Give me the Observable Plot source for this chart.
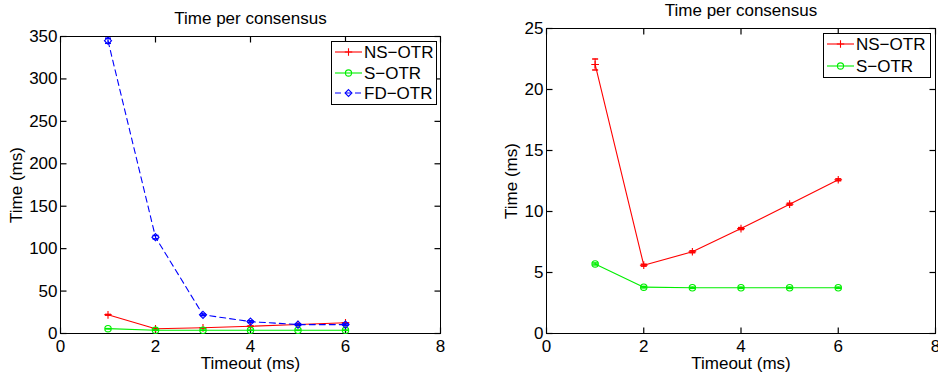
<!DOCTYPE html>
<html><head><meta charset="utf-8">
<script src="https://cdn.jsdelivr.net/npm/d3@7"></script>
<script src="https://cdn.jsdelivr.net/npm/@observablehq/plot@0.6"></script>
<style>
body{margin:0;background:#fff;}
#wrap{position:relative;width:938px;height:377px;overflow:hidden;font-family:"Liberation Sans",Arial,sans-serif;}
.panel{position:absolute;top:0;}
.legend{position:absolute;background:#fff;border:1.5px solid #000;box-sizing:border-box;}
</style></head>
<body><div id="wrap"></div>
<script>
const timeouts = [1, 2, 3, 4, 5, 6];
const nsOtr = [22.05, 5.6, 6.7, 8.6, 10.6, 12.6];
const nsErr = [0.45, 0.08, 0.08, 0.08, 0.08, 0.08];
const sOtr = [5.7, 3.8, 3.75, 3.75, 3.75, 3.75];
const sErr = [0.08, 0.06, 0.05, 0.05, 0.05, 0.05];
const fdOtr = [345, 113.5, 22, 14, 10.5, 10.5];
const fdErr = [3, 2, 1, 1, 0.8, 0.8];
const xTicks = [0, 2, 4, 6, 8];
const yTicksLeft = [0, 50, 100, 150, 200, 250, 300, 350];
const yTicksRight = [0, 5, 10, 15, 20, 25];
const titleText = "Time per consensus";
const xLabel = "Timeout (ms)";
const yLabel = "Time (ms)";

const series = [
  {name: "NS\u2212OTR", y: nsOtr, err: nsErr, color: "#ff0000", symbol: "plus", r: 2.6, dash: null},
  {name: "S\u2212OTR", y: sOtr, err: sErr, color: "#00ee00", symbol: "circle", r: 3.2, dash: null},
  {name: "FD\u2212OTR", y: fdOtr, err: fdErr, color: "#0000ff", symbol: "diamond2", r: 3.2, dash: "6,4"}
];
const capSymbol = {draw(ctx){ ctx.moveTo(-3, 0); ctx.lineTo(3, 0); }};
const W = 469, H = 377, TICK = 6;

function rows(s){ return timeouts.map((t,i)=>({x:t, y:s.y[i], lo:s.y[i]-s.err[i], hi:s.y[i]+s.err[i]})); }

function makePanel(list, yTicks, yMax, m, labelOffY){
  const xMin = xTicks[0], xMax = xTicks[xTicks.length-1];
  const fw = W - m.left - m.right, fh = H - m.top - m.bottom;
  const ty = TICK * yMax / fh, tx = TICK * (xMax - xMin) / fw;
  const marks = [Plot.frame({stroke:"#000", strokeWidth:1})];
  marks.push(Plot.axisX(xTicks, {anchor:"bottom", tickSize:0, tickPadding:6, fontSize:17, label:null}));
  marks.push(Plot.text([xLabel], {frameAnchor:"bottom", lineAnchor:"bottom", dy:35, fontSize:17}));
  marks.push(Plot.axisY(yTicks, {anchor:"left", tickSize:0, tickPadding:3, fontSize:17, label:yLabel, labelArrow:"none", labelAnchor:"center", labelOffset:labelOffY}));
  marks.push(Plot.link(xTicks, {x1:d=>d, x2:d=>d, y1:()=>0, y2:()=>ty, stroke:"#000", strokeWidth:1.2}));
  marks.push(Plot.link(xTicks, {x1:d=>d, x2:d=>d, y1:()=>yMax, y2:()=>yMax - ty, stroke:"#000", strokeWidth:1.2}));
  marks.push(Plot.link(yTicks, {y1:d=>d, y2:d=>d, x1:()=>xMin, x2:()=>xMin + tx, stroke:"#000", strokeWidth:1.2}));
  marks.push(Plot.link(yTicks, {y1:d=>d, y2:d=>d, x1:()=>xMax, x2:()=>xMax - tx, stroke:"#000", strokeWidth:1.2}));
  for (const s of list){
    const d = rows(s);
    marks.push(Plot.ruleX(d, {x:"x", y1:"lo", y2:"hi", stroke:s.color, strokeWidth:1}));
    marks.push(Plot.dot(d, {x:"x", y:"lo", symbol:capSymbol, stroke:s.color, r:3}));
    marks.push(Plot.dot(d, {x:"x", y:"hi", symbol:capSymbol, stroke:s.color, r:3}));
    marks.push(Plot.line(d, {x:"x", y:"y", stroke:s.color, strokeWidth:1.1, strokeDasharray:s.dash}));
    marks.push(Plot.dot(d, {x:"x", y:"y", symbol:s.symbol, stroke:s.color, fill:"none", r:s.r, strokeWidth:1.1}));
  }
  marks.push(Plot.text([titleText], {frameAnchor:"top", lineAnchor:"bottom", dy:-m.titleGap, fontSize:17}));
  return Plot.plot({
    width: W, height: H,
    marginLeft: m.left, marginRight: m.right, marginTop: m.top, marginBottom: m.bottom,
    style: {fontFamily:"Liberation Sans, Arial, sans-serif", fontSize:"17px", color:"#000", background:"transparent", overflow:"visible"},
    x: {domain:[xMin, xMax]},
    y: {domain:[0, yMax]},
    marks
  });
}

const wrap = document.getElementById("wrap");
const left = makePanel(series, yTicksLeft, 350, {left:60, right:29, top:36, bottom:44, titleGap:13}, 51);
left.classList.add("panel"); left.style.left = "0px";
wrap.appendChild(left);
const right = makePanel(series.slice(0,2), yTicksRight, 25, {left:77, right:3, top:28, bottom:44, titleGap:13}, 42);
right.classList.add("panel"); right.style.left = "469px";
wrap.appendChild(right);

function legend(list, x, y, w, h, rowYs){
  const svg = d3.create("svg").attr("width", w).attr("height", h);
  list.forEach((s, i) => {
    const cy = rowYs[i];
    svg.append("line").attr("x1", 4).attr("x2", 31).attr("y1", cy).attr("y2", cy)
      .attr("stroke", s.color).attr("stroke-width", 1.1).attr("stroke-dasharray", s.dash);
    const sym = s.symbol === "plus" ? d3.symbolPlus : s.symbol === "circle" ? d3.symbolCircle : d3.symbolDiamond2;
    svg.append("path").attr("transform", `translate(17.5,${cy})`)
      .attr("d", d3.symbol(sym, s.symbol === "plus" ? 20 : 30)())
      .attr("fill", "none").attr("stroke", s.color).attr("stroke-width", 1.1);
    svg.append("text").attr("x", 33).attr("y", cy).attr("dy", "0.36em")
      .attr("font-size", 17).attr("font-family", "Liberation Sans, Arial, sans-serif").text(s.name);
  });
  const div = document.createElement("div");
  div.className = "legend";
  div.style.left = x + "px"; div.style.top = y + "px"; div.style.width = w + "px"; div.style.height = h + "px";
  const node = svg.node(); node.style.position = "absolute"; node.style.left = "-1.5px"; node.style.top = "-1.5px";
  div.appendChild(node);
  wrap.appendChild(div);
}
legend(series, 331, 41, 106, 64, [11, 32, 52]);
legend(series.slice(0,2), 823, 33, 108, 45, [11, 33]);
</script></body></html>
